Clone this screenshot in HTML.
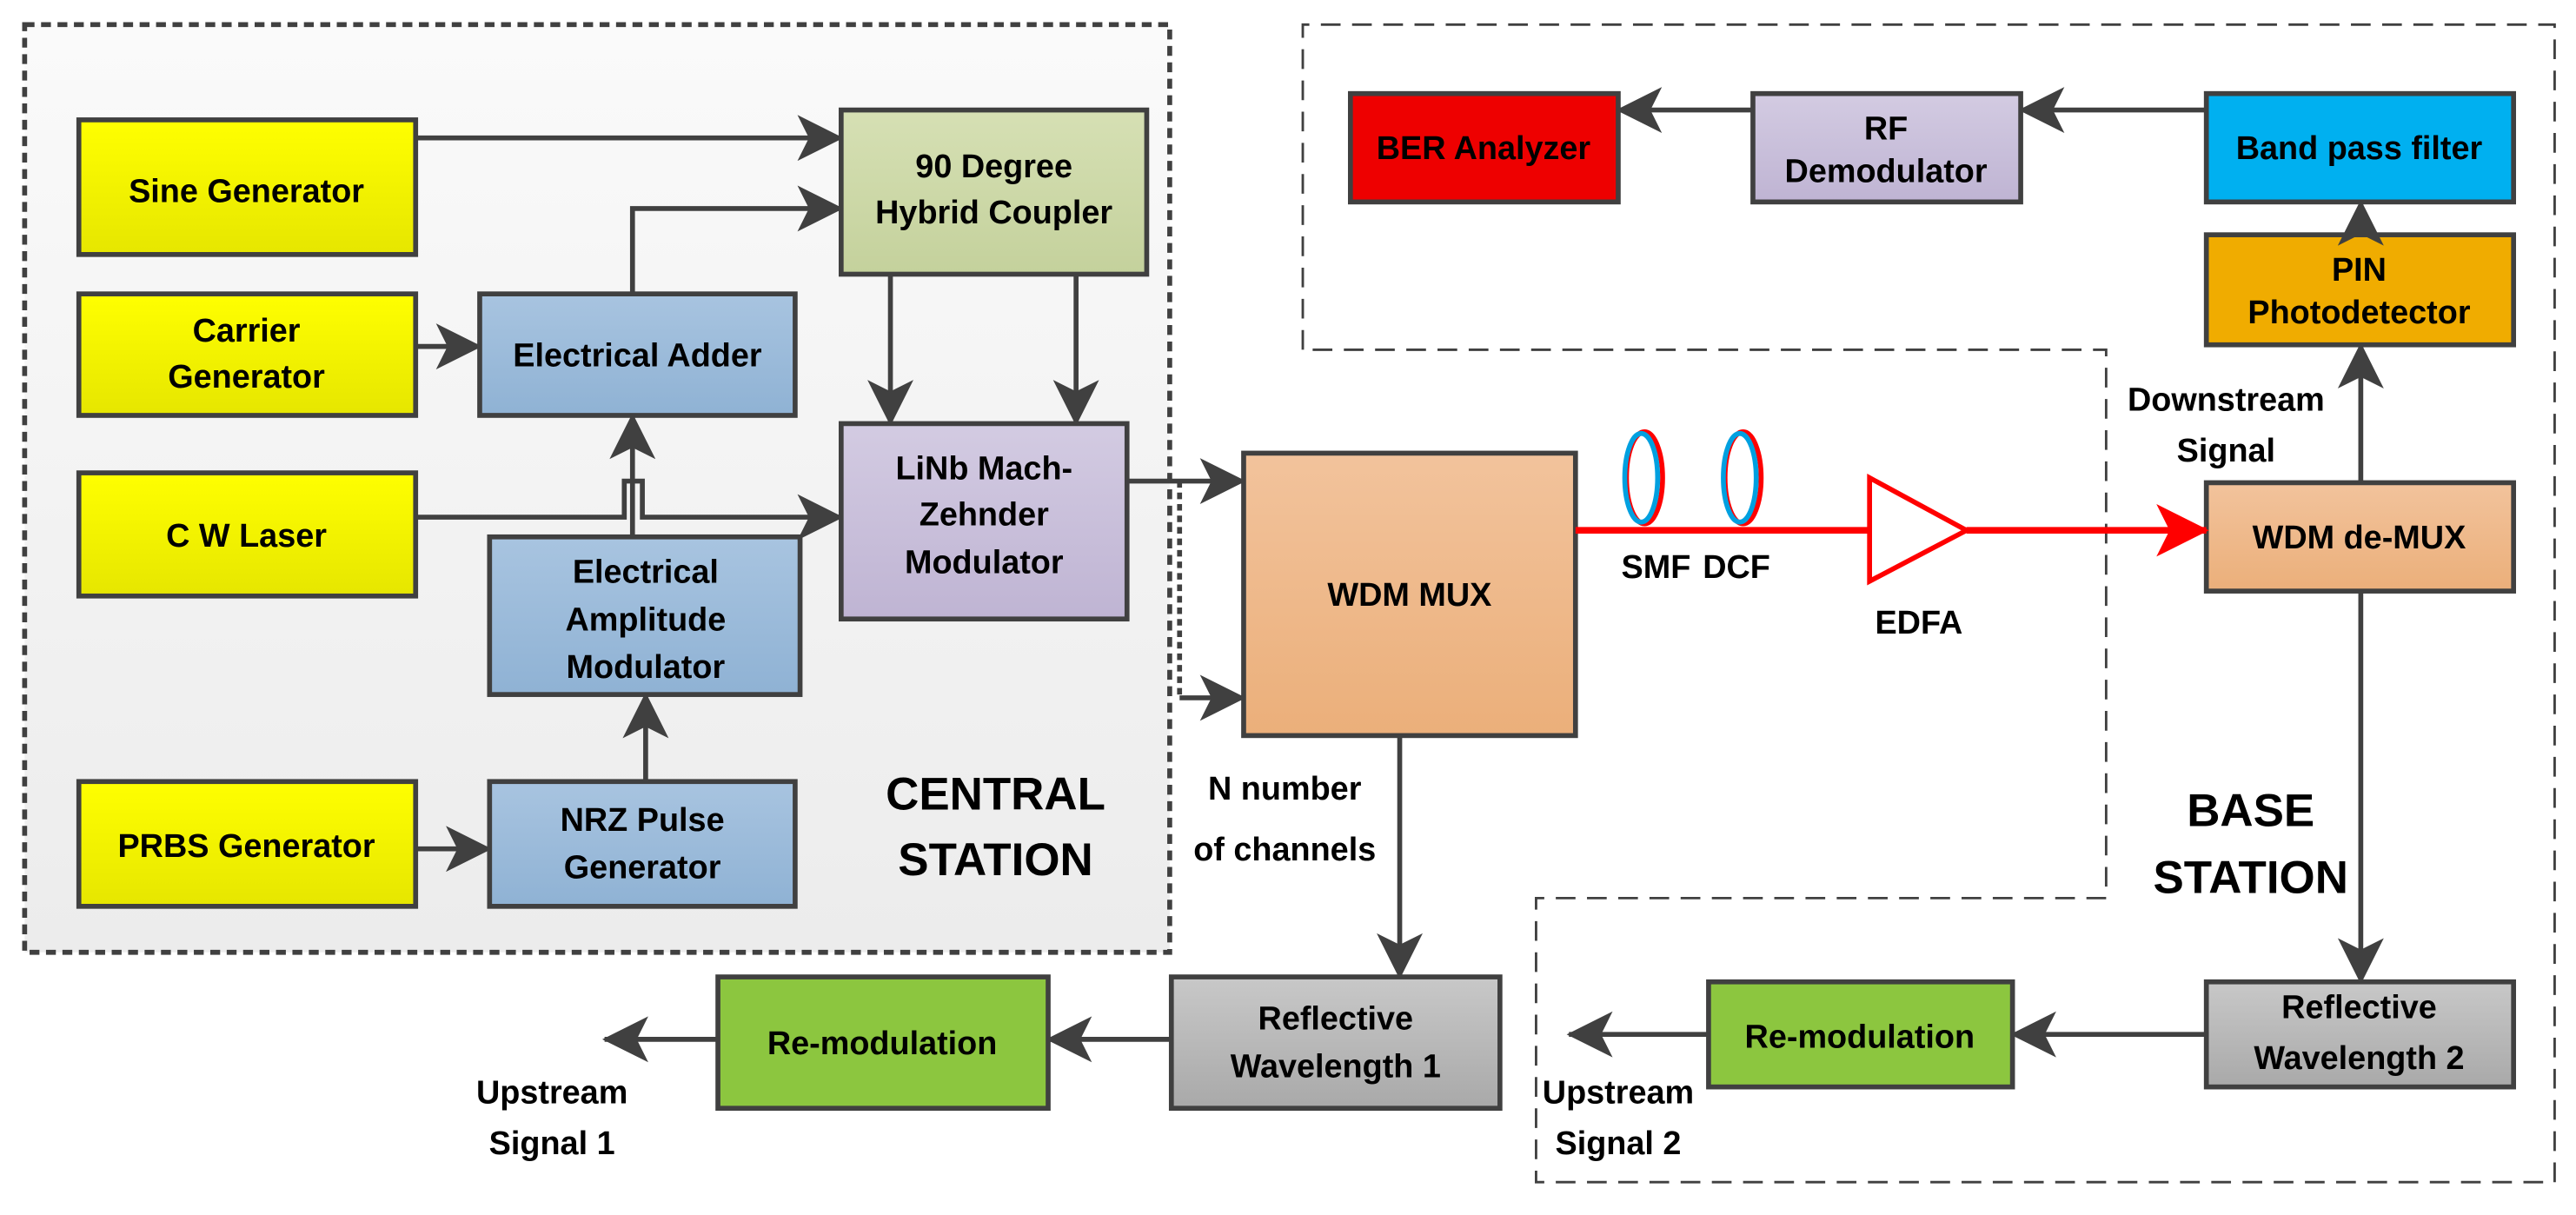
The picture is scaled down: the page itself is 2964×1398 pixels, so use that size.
<!DOCTYPE html>
<html><head><meta charset="utf-8"><style>
html,body{margin:0;padding:0;background:#fff;}
svg{display:block;}
text{font-family:"Liberation Sans Narrow","Liberation Sans",sans-serif;font-weight:bold;fill:#000;text-anchor:middle;}
</style></head><body>
<svg width="2964" height="1398" viewBox="0 0 1568 740" preserveAspectRatio="none" xmlns="http://www.w3.org/2000/svg">
<defs>
<marker id="a" viewBox="0 0 20 20" refX="19" refY="10" markerWidth="30" markerHeight="28" markerUnits="userSpaceOnUse" orient="auto">
<path d="M0,0 L20,10 L0,20 L5,10 Z" fill="#404040"/></marker>
<marker id="ar" viewBox="0 0 20 20" refX="19" refY="10" markerWidth="32" markerHeight="32" markerUnits="userSpaceOnUse" orient="auto">
<path d="M0,0 L20,10 L0,20 L5,10 Z" fill="#ff0000"/></marker>
<linearGradient id="y" x1="0" y1="0" x2="0" y2="1"><stop offset="0" stop-color="#ffff00"/><stop offset="1" stop-color="#e6e600"/></linearGradient>
<linearGradient id="b" x1="0" y1="0" x2="0" y2="1"><stop offset="0" stop-color="#a8c4e0"/><stop offset="1" stop-color="#8fb2d4"/></linearGradient>
<linearGradient id="g" x1="0" y1="0" x2="0" y2="1"><stop offset="0" stop-color="#d6e0b4"/><stop offset="1" stop-color="#c4d19c"/></linearGradient>
<linearGradient id="p" x1="0" y1="0" x2="0" y2="1"><stop offset="0" stop-color="#d3cbe2"/><stop offset="1" stop-color="#bfb4d3"/></linearGradient>
<linearGradient id="o" x1="0" y1="0" x2="0" y2="1"><stop offset="0" stop-color="#f2c39c"/><stop offset="1" stop-color="#ebaf7a"/></linearGradient>
<linearGradient id="gr" x1="0" y1="0" x2="0" y2="1"><stop offset="0" stop-color="#c8c8c8"/><stop offset="1" stop-color="#a9a9a9"/></linearGradient>
<linearGradient id="bg" x1="0" y1="0" x2="0" y2="1"><stop offset="0" stop-color="#fafafa"/><stop offset="1" stop-color="#ececec"/></linearGradient>
</defs>

<rect x="15" y="15" width="697" height="565" fill="url(#bg)" stroke="#404040" stroke-width="3" stroke-dasharray="6,4"/>
<path d="M793,213 L793,15 L1555,15 L1555,720 L935,720 L935,547 L1282,547 L1282,213 Z" fill="none" stroke="#404040" stroke-width="1.5" stroke-dasharray="12,7"/>

<g stroke="#404040" stroke-width="3">
<rect x="48" y="73" width="205" height="82" fill="url(#y)"/>
<rect x="48" y="179" width="205" height="74" fill="url(#y)"/>
<rect x="48" y="288" width="205" height="75" fill="url(#y)"/>
<rect x="48" y="476" width="205" height="76" fill="url(#y)"/>
<rect x="512" y="67" width="186" height="100" fill="url(#g)"/>
<rect x="292" y="179" width="192" height="74" fill="url(#b)"/>
<rect x="298" y="327" width="189" height="96" fill="url(#b)"/>
<rect x="298" y="476" width="186" height="76" fill="url(#b)"/>
<rect x="512" y="258" width="174" height="119" fill="url(#p)"/>
<rect x="757" y="276" width="202" height="172" fill="url(#o)"/>
<rect x="1343" y="294" width="187" height="66" fill="url(#o)"/>
<rect x="822" y="57" width="163" height="66" fill="#ee0000"/>
<rect x="1067" y="57" width="163" height="66" fill="url(#p)"/>
<rect x="1343" y="57" width="187" height="66" fill="#00b0f0"/>
<rect x="1343" y="143" width="187" height="67" fill="#f0ac00"/>
<rect x="713" y="595" width="200" height="80" fill="url(#gr)"/>
<rect x="437" y="595" width="201" height="80" fill="#8cc63f"/>
<rect x="1343" y="598" width="187" height="64" fill="url(#gr)"/>
<rect x="1040" y="598" width="185" height="64" fill="#8cc63f"/>
</g>

<g stroke="#404040" stroke-width="3" fill="none" marker-end="url(#a)">
<path d="M253,84 L512,84"/>
<path d="M385,179 L385,127 L512,127"/>
<path d="M542,167 L542,258"/>
<path d="M655,167 L655,258"/>
<path d="M253,211 L292,211"/>
<path d="M253,315 L380,315 L380,293 L391,293 L391,315 L512,315"/>
<path d="M385,327 L385,253"/>
<path d="M393,476 L393,423"/>
<path d="M253,517 L298,517"/>
<path d="M686,293 L757,293"/>
<path d="M718,425 L757,425"/>
<path d="M852,448 L852,595"/>
<path d="M713,633 L638,633"/>
<path d="M437,633 L368,633"/>
<path d="M1437,360 L1437,598"/>
<path d="M1343,630 L1225,630"/>
<path d="M1040,630 L955,630"/>
<path d="M1437,294 L1437,210"/>
<path d="M1437,143 L1437,123"/>
<path d="M1343,67 L1230,67"/>
<path d="M1067,67 L985,67"/>
</g>
<path d="M718,293 L718,425" stroke="#404040" stroke-width="3" stroke-dasharray="4,3" fill="none"/>

<path d="M959,323 L1138,323 M1197,323 L1343,323" stroke="#ff0000" stroke-width="4" fill="none" marker-end="url(#ar)"/>
<polygon points="1138,291 1197,323 1138,354" fill="#fff" stroke="#ff0000" stroke-width="3"/>
<ellipse cx="1001" cy="291" rx="11" ry="28" fill="none" stroke="#ff0000" stroke-width="3"/>
<ellipse cx="999" cy="291" rx="10" ry="27" fill="none" stroke="#00a0e0" stroke-width="3"/>
<ellipse cx="1061" cy="291" rx="11" ry="28" fill="none" stroke="#ff0000" stroke-width="3"/>
<ellipse cx="1059" cy="291" rx="10" ry="27" fill="none" stroke="#00a0e0" stroke-width="3"/>

<g font-size="20">
<text x="150" y="123">Sine Generator</text>
<text x="150" y="208">Carrier</text><text x="150" y="236">Generator</text>
<text x="150" y="333">C W Laser</text>
<text x="150" y="522">PRBS Generator</text>
<text x="605" y="108">90 Degree</text><text x="605" y="136">Hybrid Coupler</text>
<text x="388" y="223">Electrical Adder</text>
<text x="393" y="355">Electrical</text><text x="393" y="384">Amplitude</text><text x="393" y="413">Modulator</text>
<text x="599" y="292">LiNb Mach-</text><text x="599" y="320">Zehnder</text><text x="599" y="349">Modulator</text>
<text x="391" y="506">NRZ Pulse</text><text x="391" y="535">Generator</text>
<text x="858" y="369">WDM MUX</text>
<text x="1436" y="334">WDM de-MUX</text>
<text x="903" y="97">BER Analyzer</text>
<text x="1148" y="85">RF</text><text x="1148" y="111">Demodulator</text>
<text x="1436" y="97">Band pass filter</text>
<text x="1436" y="171">PIN</text><text x="1436" y="197">Photodetector</text>
<text x="813" y="627">Reflective</text><text x="813" y="656">Wavelength 1</text>
<text x="537" y="642">Re-modulation</text>
<text x="1436" y="620">Reflective</text><text x="1436" y="651">Wavelength 2</text>
<text x="1132" y="638">Re-modulation</text>
<text x="1008" y="352">SMF</text><text x="1057" y="352">DCF</text>
<text x="1168" y="386">EDFA</text>
<text x="1355" y="250">Downstream</text><text x="1355" y="281">Signal</text>
<text x="336" y="672">Upstream</text><text x="336" y="703">Signal 1</text>
<text x="985" y="672">Upstream</text><text x="985" y="703">Signal 2</text>
<text x="782" y="487">N number</text><text x="782" y="524">of channels</text>
</g>
<g font-size="28">
<text x="606" y="493">CENTRAL</text><text x="606" y="533">STATION</text>
<text x="1370" y="503">BASE</text><text x="1370" y="544">STATION</text>
</g>
</svg>
</body></html>
